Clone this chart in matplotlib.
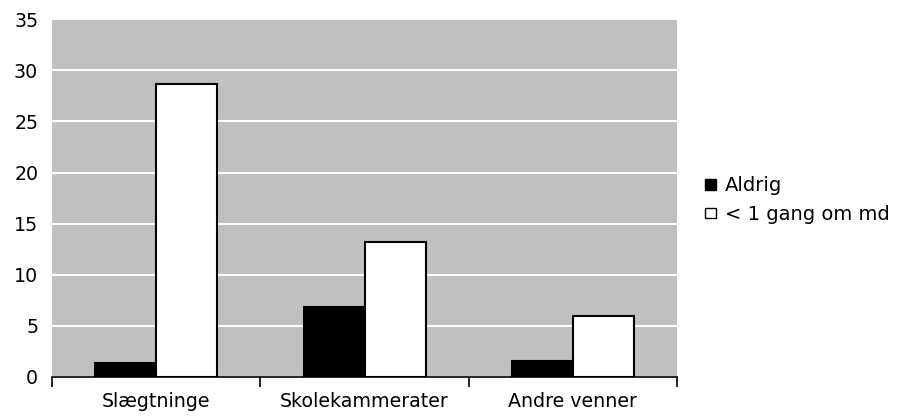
import numpy as np
import matplotlib.pyplot as plt
from matplotlib.patches import Patch

categories = ['Slægtninge', 'Skolekammerater', 'Andre venner']
aldrig = [1.4, 6.8, 1.6]
under_1 = [28.7, 13.2, 6.0]
series_names = ['Aldrig', '< 1 gang om md']

fig = plt.figure(figsize=(8.99, 4.17), dpi=100)
ax = fig.add_axes([0.058, 0.096, 0.695, 0.858])
ax.set_facecolor('#C0C0C0')

x = np.arange(len(categories))
w = 0.293
ax.bar(x - w / 2, aldrig, w, color='black', edgecolor='black', linewidth=1.5, zorder=3)
ax.bar(x + w / 2, under_1, w, color='white', edgecolor='black', linewidth=1.5, zorder=3)

ax.set_xlim(-0.5, 2.5)
ax.set_ylim(0, 35)
ax.set_yticks(range(0, 36, 5))
ax.yaxis.grid(True, color='white', linewidth=1.5, zorder=1)
ax.set_axisbelow(True)

# category labels at centers, ticks at boundaries
ax.set_xticks(x)
ax.set_xticklabels(categories)
ax.tick_params(axis='x', length=0, pad=11, labelsize=13.7)
ax.set_xticks(np.arange(-0.5, 2.6, 1), minor=True)
ax.tick_params(axis='x', which='minor', length=7, width=1.2, direction='out')
ax.tick_params(axis='y', length=0, pad=10, labelsize=13.7)

for s in ['top', 'right', 'left']:
    ax.spines[s].set_visible(False)
ax.spines['bottom'].set_linewidth(1.2)

handles = [Patch(facecolor='black', edgecolor='black'),
           Patch(facecolor='white', edgecolor='black')]
fig.legend(handles, series_names, loc='center left', bbox_to_anchor=(0.776, 0.52),
           frameon=False, fontsize=14, handlelength=0.55, handleheight=0.45,
           handletextpad=0.45, labelspacing=0.5, borderaxespad=0)

fig.savefig('out.png', dpi=100)
